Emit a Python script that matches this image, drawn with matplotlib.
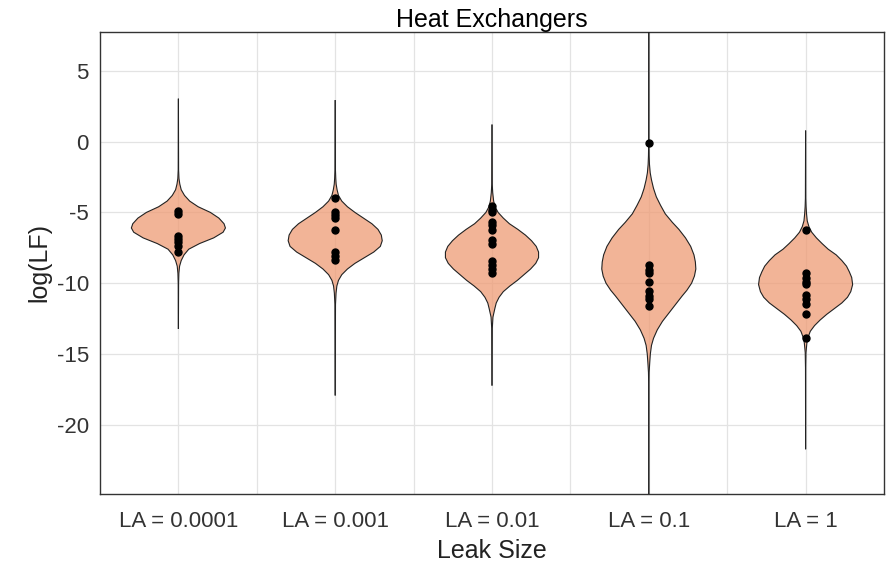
import matplotlib
matplotlib.use("Agg")
import matplotlib.pyplot as plt
import numpy as np

plt.rcParams['font.family'] = ['Liberation Sans', 'DejaVu Sans']

# ---- data ----
categories = ["LA = 0.0001", "LA = 0.001", "LA = 0.01", "LA = 0.1", "LA = 1"]

# observed points (log LF)
points_1 = [-4.87, -5.1, -6.64, -6.87, -7.1, -7.34, -7.82]
points_2 = [-4.0, -4.95, -5.2, -5.4, -6.24, -7.77, -8.05, -8.36]
points_3 = [-4.55, -4.8, -5.0, -5.7, -5.9, -6.25, -6.95, -7.25, -8.45, -8.7, -9.0, -9.25]
points_4 = [-0.12, -8.71, -9.1, -9.3, -9.93, -10.52, -10.9, -11.1, -11.58]
points_5 = [-6.23, -9.25, -9.65, -9.9, -10.05, -10.85, -11.15, -11.45, -12.15, -13.85]

# violin profiles: log(LF) levels and relative half-width
levels_1 = [3.0, -2.0, -2.6, -3.0, -3.4, -3.8, -4.2, -4.6, -5.0, -5.4, -5.8, -6.1,
            -6.4, -6.8, -7.2, -7.6, -8.0, -8.4, -8.8, -9.3, -10.0, -13.2]
widths_1 = [0.0, 0.004, 0.012, 0.03, 0.06, 0.13, 0.24, 0.42, 0.68, 0.86, 0.97, 1.0,
            0.95, 0.75, 0.45, 0.22, 0.12, 0.06, 0.025, 0.01, 0.004, 0.0]

levels_2 = [2.9, -2.0, -2.6, -3.0, -3.4, -3.8, -4.2, -4.6, -5.0, -5.4, -5.8, -6.2, -6.6,
            -7.0, -7.4, -7.8, -8.2, -8.6, -9.0, -9.4, -9.8, -10.2, -10.7, -11.5, -17.9]
widths_2 = [0.0, 0.005, 0.012, 0.02, 0.04, 0.07, 0.14, 0.26, 0.42, 0.6, 0.78, 0.91, 0.98,
            1.0, 0.96, 0.82, 0.62, 0.42, 0.26, 0.14, 0.07, 0.035, 0.018, 0.006, 0.0]

levels_3 = [1.17, -3.0, -3.6, -4.2, -4.6, -5.0, -5.4, -5.8, -6.2, -6.6, -7.0, -7.4, -7.8,
            -8.2, -8.6, -9.0, -9.4, -9.8, -10.2, -10.6, -11.0, -11.4, -11.8, -12.4, -13.2, -17.2]
widths_3 = [0.0, 0.005, 0.015, 0.035, 0.065, 0.13, 0.24, 0.37, 0.55, 0.71, 0.84, 0.94, 0.99,
            0.99, 0.93, 0.82, 0.68, 0.54, 0.38, 0.24, 0.15, 0.09, 0.06, 0.02, 0.006, 0.0]

levels_4 = [9.0, 0.0, -1.0, -1.6, -2.2, -2.7, -3.3, -3.9, -4.5, -5.1, -5.7, -6.2, -6.8,
            -7.4, -8.0, -8.5, -9.0, -9.5, -10.0, -10.5, -10.9, -11.5, -12.1, -12.7, -13.3,
            -13.9, -14.4, -15.0, -15.6, -16.3, -17.0, -27.0]
widths_4 = [0.0, 0.002, 0.007, 0.014, 0.03, 0.057, 0.1, 0.16, 0.25, 0.35, 0.5, 0.64, 0.78,
            0.89, 0.96, 0.99, 1.0, 0.97, 0.91, 0.81, 0.71, 0.57, 0.43, 0.29, 0.18,
            0.1, 0.057, 0.033, 0.02, 0.007, 0.003, 0.0]

levels_5 = [0.75, -4.0, -4.6, -5.1, -5.6, -6.0, -6.4, -6.8, -7.2, -7.6, -8.0, -8.4, -8.8,
            -9.2, -9.6, -10.1, -10.6, -11.0, -11.4, -11.8, -12.2, -12.6, -13.0, -13.4,
            -13.8, -14.2, -14.9, -16.0, -21.7]
widths_5 = [0.0, 0.004, 0.01, 0.02, 0.035, 0.07, 0.13, 0.23, 0.35, 0.48, 0.65, 0.77, 0.87,
            0.93, 0.98, 1.0, 0.96, 0.89, 0.77, 0.61, 0.45, 0.31, 0.19, 0.1,
            0.055, 0.028, 0.008, 0.002, 0.0]

y_ticks = [5, 0, -5, -10, -15, -20]

levels = [levels_1, levels_2, levels_3, levels_4, levels_5]
widths = [widths_1, widths_2, widths_3, widths_4, widths_5]
points = [points_1, points_2, points_3, points_4, points_5]

# ---- figure ----
fig = plt.figure(figsize=(8.89, 5.65), dpi=100)
ax = fig.add_axes([100 / 889, 1 - 494 / 565, 784 / 889, 462 / 565])
ax.set_xlim(0.5, 5.5)
ax.set_ylim(-24.9, 7.75)

grid_c = "#E3E3E3"
for yt in y_ticks:
    ax.axhline(yt, color=grid_c, lw=0.9, zorder=0)
for i in range(len(categories)):
    ax.axvline(i + 1, color=grid_c, lw=0.9, zorder=0)
for i in range(len(categories) - 1):
    ax.axvline(i + 1.5, color=grid_c, lw=0.9, zorder=0)

half = 0.3
for i, (lv, wd, pts) in enumerate(zip(levels, widths, points)):
    pos = i + 1
    lv = np.asarray(lv)
    hw = np.asarray(wd) * half
    ax.fill_betweenx(lv, pos - hw, pos + hw, facecolor="#EE9B74", alpha=0.75,
                     edgecolor="none", zorder=2)
    ax.plot(pos - hw, lv, color="#222222", lw=0.8, zorder=3)
    ax.plot(pos + hw, lv, color="#222222", lw=0.8, zorder=3)
    ax.plot([pos] * len(pts), pts, "o", color="black", ms=5, zorder=4)

ax.set_xticks(range(1, len(categories) + 1))
ax.set_xticklabels(categories)
ax.set_yticks(y_ticks)
ax.set_yticklabels([str(t) for t in y_ticks])
ax.tick_params(axis="both", length=0, labelsize=16, colors="#333333", pad=8)
ax.tick_params(axis="x", pad=12)
for sp in ax.spines.values():
    sp.set_color("#333333")
    sp.set_linewidth(1.0)

ax.set_xlabel("Leak Size", fontsize=18, color="#222222", labelpad=5)
ax.set_ylabel("log(LF)", fontsize=18, color="#222222", labelpad=4)
ax.set_title("Heat Exchangers", fontsize=18, color="black", pad=3)

fig.savefig("out.png", dpi=100)
